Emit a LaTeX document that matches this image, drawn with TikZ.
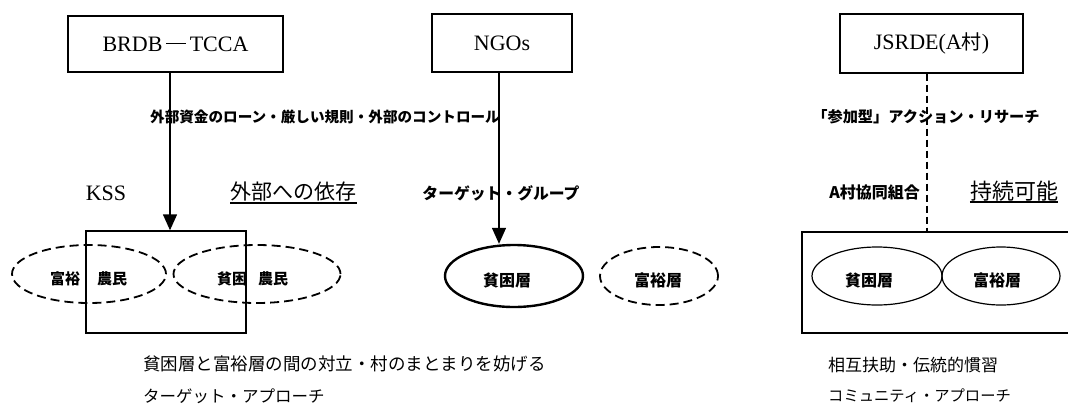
\documentclass[tikz,border=0pt]{standalone}
\usepackage{fontspec}
\setmainfont{Liberation Serif}
\newfontfamily\jp{Noto Sans CJK JP}
\usetikzlibrary{arrows.meta,shapes.geometric}
\tikzset{
  orgbox/.style={draw, line width=1.4pt, inner sep=0pt, font=\fontsize{22}{22}\selectfont},
  grp/.style={draw, ellipse, inner sep=0pt},
  dgrp/.style={grp, line width=1.8pt, dash pattern=on 9pt off 5pt},
  sgrp/.style={grp, line width=1.2pt},
  tgrp/.style={grp, line width=2.4pt},
  lbl/.style={inner sep=0pt, font=\jp\bfseries\fontsize{15}{15}\selectfont},
  note/.style={inner sep=0pt, anchor=west, font=\jp\fontsize{17.5}{17.5}\selectfont},
  big/.style={inner sep=0pt, font=\jp\fontsize{21}{21}\selectfont},
  arr/.style={line width=1.4pt, -{Triangle[width=14pt,length=16pt]}},
}
\begin{document}
\begin{tikzpicture}[x=1pt,y=-1pt]
\useasboundingbox[fill=white] (0,0) rectangle (1068,405);

% top boxes
\node[orgbox, minimum width=215pt, minimum height=56pt] (brdb) at (175.5,44) {BRDB\,\raisebox{0.32em}{\rule{20pt}{1pt}}\,TCCA};
\node[orgbox, minimum width=140pt, minimum height=58pt] (ngo) at (502,43) {NGOs};
\node[orgbox, minimum width=183pt, minimum height=59pt] (jsr) at (931.5,43.5) {JSRDE(A{\jp\fontsize{20}{20}\selectfont 村})};

% KSS box
\node[draw, line width=1.4pt, minimum width=160pt, minimum height=102pt, inner sep=0pt] (kss) at (166,282) {};

% left dashed ellipses
\node[dgrp, minimum width=154pt, minimum height=58pt] (rich1) at (89,274) {};
\node[dgrp, minimum width=167pt, minimum height=58pt] (poor1) at (257,274) {};
\node[lbl] (t1) at (65,279) {富裕};
\node[lbl] (t2) at (112,279) {農民};
\node[lbl] (t3) at (232,279) {貧困};
\node[lbl] (t4) at (273,279) {農民};

% NGO ellipses
\node[tgrp, minimum width=138pt, minimum height=62pt] (poor2) at (514,276) {};
\node[dgrp, minimum width=118pt, minimum height=58pt] (rich2) at (659,276) {};
\node[lbl, font=\jp\bfseries\fontsize{16}{16}\selectfont] (t5) at (507,280) {貧困層};
\node[lbl, font=\jp\bfseries\fontsize{16}{16}\selectfont] (t6) at (658,280) {富裕層};

% right box (cut at the edge)
\draw[line width=1.3pt] (1070,232) -- (802,232) -- (802,333) -- (1070,333);
\coordinate (vtop) at (927,232);
\node[sgrp, minimum width=130pt, minimum height=58pt] (poor3) at (877,276) {};
\node[sgrp, minimum width=118pt, minimum height=58pt] (rich3) at (1001,276) {};
\node[lbl, font=\jp\bfseries\fontsize{16}{16}\selectfont] (t7) at (869,280) {貧困層};
\node[lbl, font=\jp\bfseries\fontsize{16}{16}\selectfont] (t8) at (997,280) {富裕層};

% connectors
\draw[arr] (brdb.south -| 170,0) -- (kss.north -| 170,0);
\draw[arr] (ngo.south -| 499,0) -- (poor2.north -| 499,0);
\draw[line width=1.4pt, dash pattern=on 7pt off 4pt] (jsr.south -| vtop) -- (vtop);

% labels on connectors
\node[lbl, font=\jp\bfseries\fontsize{14.6}{14.6}\selectfont] (l1) at (325,117) {外部資金のローン・厳しい規則・外部のコントロール};
\node[lbl, font=\jp\bfseries\fontsize{15.8}{15.8}\selectfont] (l2) at (501,193) {ターゲット・グループ};
\node[lbl, font=\jp\bfseries\fontsize{15.2}{15.2}\selectfont] (l3) at (926,117) {「参加型」アクション・リサーチ};
\node[lbl, anchor=east, font=\jp\bfseries\fontsize{16}{16}\selectfont] (l4) at (920,192) {A村協同組合};

% headings
\node[inner sep=0pt, font=\fontsize{22}{22}\selectfont] (kssl) at (106,193) {KSS};
\node[big] (dep) at (293.5,192) {外部への依存};
\draw[line width=1.3pt] (dep.south west |- 0,203) -- (dep.south east |- 0,203);
\node[big, font=\jp\fontsize{22}{22}\selectfont] (sus) at (1014,191) {持続可能};
\draw[line width=1.3pt] (sus.south west |- 0,202) -- (sus.south east |- 0,202);

% bottom notes
\node[note] (b1) at (143,364) {貧困層と富裕層の間の対立・村のまとまりを妨げる};
\node[note, font=\jp\fontsize{16.5}{16.5}\selectfont] (b2) at (143,396) {ターゲット・アプローチ};
\node[note, font=\jp\fontsize{17}{17}\selectfont] (b3) at (828,365) {相互扶助・伝統的慣習};
\node[note, font=\jp\fontsize{15.3}{15.3}\selectfont] (b4) at (828,396) {コミュニティ・アプローチ};
\end{tikzpicture}
\end{document}
